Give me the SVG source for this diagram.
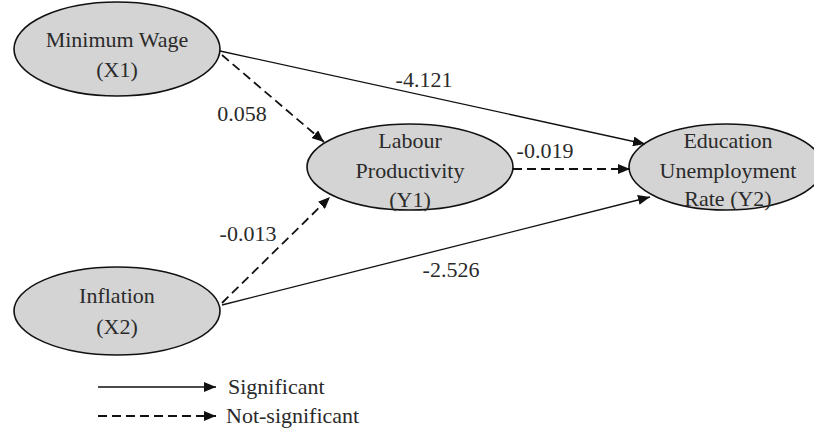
<svg xmlns="http://www.w3.org/2000/svg" width="814" height="431" viewBox="0 0 814 431">
<style>
.node ellipse{fill:#d4d4d4;stroke:#111;stroke-width:1.6}
text{font-family:"Liberation Serif","Times New Roman",serif;font-size:22px;fill:#2a2a2a}
.node text{text-anchor:middle}
.lbl{text-anchor:middle}
.sig{stroke:#111;stroke-width:1.3;fill:none}
.ns{stroke:#111;stroke-width:1.8;fill:none;stroke-dasharray:9 5}
</style>
<defs>
<marker id="arr" viewBox="0 0 12 10" refX="12" refY="5" markerWidth="12" markerHeight="10" markerUnits="userSpaceOnUse" orient="auto">
<path d="M0,0 L12,5 L0,10 Z" fill="#111"/>
</marker>
</defs>
<g id="x1" class="node">
<ellipse cx="117" cy="49" rx="103" ry="47"/>
<text x="117" y="47">Minimum Wage</text>
<text x="117" y="77">(X1)</text>
</g>
<g id="x2" class="node">
<ellipse cx="117" cy="311" rx="103" ry="44"/>
<text x="117" y="303">Inflation</text>
<text x="117" y="334">(X2)</text>
</g>
<g id="y1" class="node">
<ellipse cx="410" cy="167" rx="103" ry="43"/>
<text x="410" y="148">Labour</text>
<text x="410" y="178">Productivity</text>
<text x="410" y="207">(Y1)</text>
</g>
<g id="y2" class="node">
<ellipse cx="726" cy="167" rx="97" ry="43"/>
<text x="728" y="148">Education</text>
<text x="728" y="178">Unemployment</text>
<text x="728" y="206">Rate (Y2)</text>
</g>
<g id="connectors">
<line class="sig" x1="220" y1="51" x2="645" y2="144" marker-end="url(#arr)"/>
<line class="ns" x1="222" y1="55" x2="324" y2="142" marker-end="url(#arr)"/>
<line class="ns" x1="513" y1="169" x2="630" y2="169" marker-end="url(#arr)"/>
<line class="ns" x1="222" y1="303" x2="330" y2="197" marker-end="url(#arr)"/>
<line class="sig" x1="222" y1="305" x2="650" y2="197" marker-end="url(#arr)"/>
<text class="lbl" x="424" y="87">-4.121</text>
<text class="lbl" x="242" y="121">0.058</text>
<text class="lbl" x="545" y="158">-0.019</text>
<text class="lbl" x="248" y="241">-0.013</text>
<text class="lbl" x="451" y="277">-2.526</text>
</g>
<g id="legend">
<line class="sig" x1="98" y1="387" x2="216" y2="387" marker-end="url(#arr)"/>
<line class="ns" x1="98" y1="416" x2="216" y2="416" marker-end="url(#arr)"/>
<text x="228" y="394">Significant</text>
<text x="226" y="423">Not-significant</text>
</g>
</svg>
